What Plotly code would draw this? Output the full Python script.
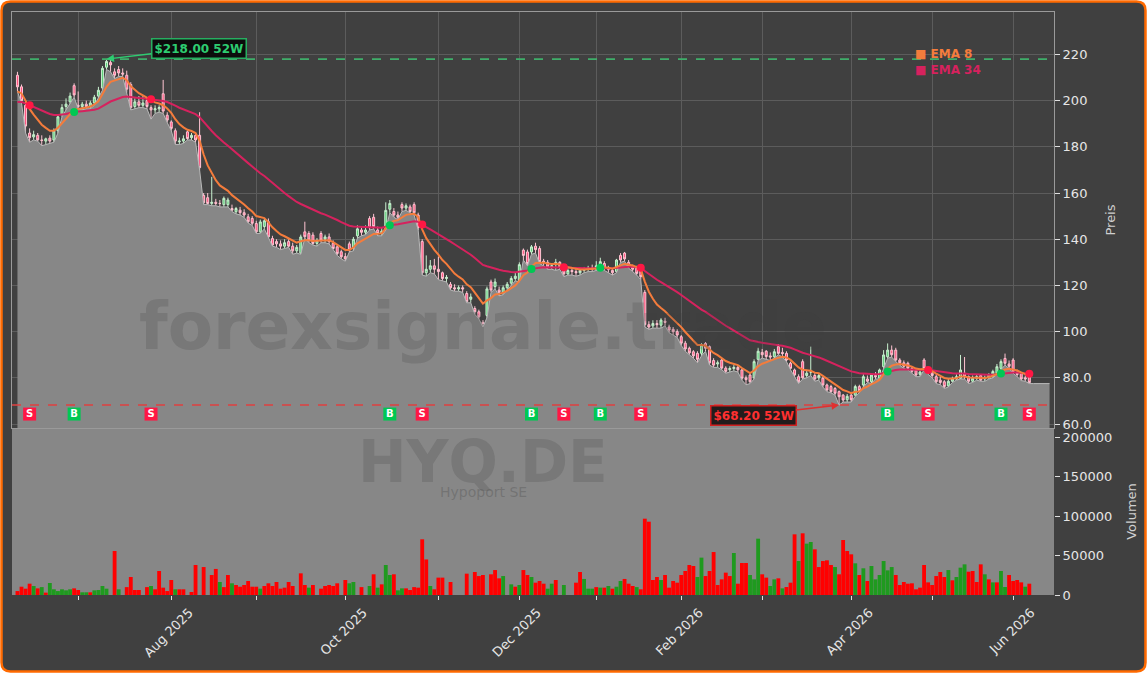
import pandas as pd
import plotly.graph_objects as go

# ---------------- data ----------------
START = "2025-06-10"
END = "2026-06-05"
HOLIDAYS = ["2025-12-24", "2025-12-25", "2025-12-26", "2025-12-31",
            "2026-01-01", "2026-04-03", "2026-04-06", "2026-05-01"]

open_ = [211,206,198,186,184.3,185,183,182.5,183.8,183,
         187,194,197.5,199.5,206.5,198,197.5,198.5,197.5,199,
         202,205.5,214.5,216.5,212.5,213.5,212,211,207,197.5,
         199.5,198,200,197,196,196.5,203,193.7,190.8,187,
         182.2,182.5,186.5,184,185,185,159,158,155.5,156,
         155.5,155,155,153.3,151.9,152.6,151.5,149.7,149,146.8,
         143.2,145.5,147.6,140.3,139,138,137,139,137,135,
         134,143.2,142.5,141.8,138.2,142.5,140,141,138.2,136.7,
         134.6,132.5,138,136,141.5,144,143,149,149.5,144,
         142.5,144.5,153,152,150.5,155,153.5,154,155,150.5,
         139,125.5,127,128.5,127,125.5,123,120.5,119,118.5,
         119,116.5,114,110,108.6,104,107,121.5,119.5,118,
         117,119,121,123,122,135.3,134.5,134.5,137,136,
         130.5,130,128,129,130,128,125,126.5,126,125.5,
         126.5,127,127.5,127,127.5,129.5,127.5,126.5,126,133,
         134,130,128,127.5,126.6,117,103,102.5,103.5,102.8,
         104.5,102,101,100,97.8,95,92.8,91.3,90.6,90.6,
         94.9,93.5,87.5,86,87.7,84.2,83.5,84,84.5,83.4,
         80,81.2,80,88,91,91.5,89.5,89.1,93.5,91,
         90.6,86.3,83.4,80.5,87,81,82.5,81,80,79.8,
         76.9,76.2,75.4,74,72.5,70.5,72.5,72.5,76.2,76.9,
         79.5,78.3,81,79.8,84.8,89.1,92,92,87.7,86.5,
         86.3,84,83.4,81.5,87.7,83.5,82,80.5,79,78.3,
         76.5,78.5,79.5,79.8,82,80.5,78.5,79.8,81,79.5,
         80,80.5,81.9,84.1,88.4,86,87.7,82,81.9,80,
         81.2]

high = [212.5,207,200,188,187,186,185,184,185,188,
        194,198.5,201,203.5,207.5,204,199.5,200,200,202.5,
        206,215,218,218,214,215,214,213,208,201,
        202,202,201,198,198,198,209,195,191.5,188,
        184,185,187.5,186,186,195,160,160,167,157.5,
        157,158.5,158,155,154,154,153,151,150,148,
        148.5,149,149,141.5,140,139.5,140,140,138.5,137.5,
        142,147.6,143.5,143,140.5,143.5,142,142.5,139.5,137.5,
        135.5,134,139,141,146,145,146,150,151,145.5,
        145,156,157,153.5,152,156,155.5,155,156,151.5,
        140,133,131,131.5,132.5,126,124.5,121.5,120.5,120,
        120,117.5,116.5,111,109.5,105,119.5,122.5,123,119.5,
        120,121.5,124,125.5,130,136,135.5,137.5,138.5,137,
        131.5,131,129.5,131.5,130.5,128.5,127.5,127.5,127.5,127.5,
        128,128.5,129,130.5,132,130.5,128.5,127.5,131.5,134,
        134.5,131,129,128.5,127.5,118,104.5,105,105,105.8,
        106,103,102,101,98.5,96,93.5,92,91.5,95,
        95.5,94,88.5,87.5,88.5,85,85,85.5,85.5,84,
        81,82,88,93,92.5,92,91,92.5,94.5,93,
        91.5,87,84,81.5,88,83.5,93.5,82,82,80.5,
        77.5,77,76,74.5,73,73,73.5,77,77,81.5,
        81,82,82.5,84,92,94.9,94,93,88.5,87.5,
        87,85,84,83.5,88.5,84.5,83,81.5,80.5,79,
        79.5,80.5,81.5,89.9,89,81,81,81.5,81.5,81,
        82,83.5,86,88,90.5,87.5,88.5,83.5,82.5,81,
        81.5]

low = [204,199,186,182,183,182.5,180.5,181,181.5,182,
       186,193,196,198.5,201.5,196.5,196,196.5,196.5,198,
       201,204.5,213.5,212.5,209.5,210.5,210.5,203.5,196,196.5,
       197,197,196.5,192,194.5,195,194.5,190.5,187,181,
       181,181.5,183,183,182,170,155,155,154.5,154.5,
       154,154,154,152,151,150.5,149.5,147,146,142.5,
       142.5,144.5,140.5,137,136.5,135.5,136,136.5,133.5,134,
       133.5,140.5,138.5,137.5,137,138.5,138.5,138,135.5,133,
       131.5,130.5,134.5,135,140.5,141.5,142,144,144.5,141.5,
       141.5,144,151.5,149.5,148.5,152,152.5,151.5,150.5,144,
       124.5,124,125.5,125,122.5,122,121.5,118,117.5,117.5,
       117,112.5,112.5,107.5,105.5,102,106,117,118.5,115.5,
       116,118,120,122,121.5,131,128.5,133.5,134,129.5,
       128.5,127,127,126.5,127,123.8,124.5,124.5,124,124.5,
       125.5,126,126,126.5,127,126.5,125.5,124.5,125.5,130,
       130.5,127.5,126,124.5,122.5,102,101,101.5,101.5,101.5,
       102.5,99.5,98.5,97.5,94,91.5,90,88.5,86.5,89.5,
       91.5,85.5,84.5,84.5,83.5,82,82.5,83,82.5,79,
       77,77.5,79.5,87.5,88.5,88,87.5,88.5,90,89,
       87,83.5,80.5,77.5,79.5,80,81,78.5,79,76,
       74,73.5,72.5,68.2,69.5,69.5,69.5,72,73.5,76,
       78,77.5,79.5,79.5,84,88.5,89,87,85.5,84,
       83.5,82,80.5,80.5,83.5,81.5,80,77.5,77,75.4,
       76,78,79,79.5,79.5,77.5,78,79,78.5,78.5,
       79.5,80,81.5,83.5,85.5,84,82,80.5,78.8,78.5,
       77.5]

close = [206,200,189,184,185.3,183,182.8,183.5,182.5,187,
         193,197,198.5,202,202.5,197.5,198.5,197.5,199,201.5,
         204.5,214,217,215.5,211,212,211.5,205,197,199.5,
         198,199,197.5,196,196.5,197,195.5,191.6,188,182.5,
         182.5,183.5,183.6,185,183,171,155.8,155.5,156,155.5,
         155.5,157.7,157,152.6,153.3,151.5,150.5,147.6,146.9,143.2,
         147.5,148,141,137.5,138,137,138.5,137,135,136.5,
         141,141.1,139.6,138.2,139.5,139.6,141,139,136,133.8,
         132.4,131.5,135.3,140,144.5,143,144,145,145.5,142.5,
         143.5,152.5,155.5,150.5,149.5,153.5,154.5,152,151.5,145,
         125.5,127,128.5,127,126,123,123.5,119,118.5,119,
         118.5,113,115,108.6,106.4,103.5,118.5,118,121.5,117,
         119,120.5,123,124,129,133,129.5,136.7,135.5,130.3,
         130,128,128.5,130,128,125,126.5,126,125.5,126.5,
         127,127.5,127,128.5,130.3,127.5,127,125.5,131,131,
         131.5,128.5,127,125.2,123.8,103,102,103.5,103,105,
         104,100.7,100,98.5,95,92.5,90.8,89.5,88,94.2,
         92.8,86.5,85.5,86.5,84.2,82.8,84,84.5,83.5,79.8,
         79.2,78.3,87,91.5,90,89.2,89,91.3,90.6,90.5,
         87.7,84.1,81.2,78.3,80,82,82.5,79.5,81,76.9,
         74.7,74,73.3,71.8,70.4,72,70.5,76.2,74.5,80.5,
         78.5,81.2,80.5,83.4,89.9,92,90,87.7,86.5,85,
         84.1,82.8,81.2,82.5,84.1,82,81,78.3,78,76.2,
         78.5,79.5,80.5,83.4,80.5,78.5,79.8,80.5,79,80,
         81.2,82.7,84.8,87,86.3,85,82.7,81.5,79.5,79.5,
         77.9]

volume = [5000,10500,8000,14300,11400,8400,10000,3000,15200,7200,
          5000,7200,5900,7200,8400,6300,3400,3400,3400,5900,
          6300,11400,8000,0,55700,7200,0,10000,22800,6300,
          6300,0,10000,11400,7200,30400,9300,5000,19000,7200,
          7200,7200,0,3800,38000,0,35400,0,25300,33000,
          16500,10000,25300,14800,12700,10500,12700,17700,10500,10500,
          8000,11400,14800,11400,16500,8000,9300,16500,11400,0,
          27400,12700,9300,12700,0,8000,11400,12700,11400,14800,
          0,19000,14800,16500,0,10000,0,11400,26200,9300,
          13500,38000,25300,26200,5900,8400,8400,6300,10000,9300,
          70500,45000,11400,7200,22000,22000,0,16500,0,0,
          0,27000,0,29100,24000,25300,0,26200,31600,21100,
          24000,0,13500,10500,12700,31600,25300,22800,15600,17700,
          14300,8000,14300,19000,0,12700,0,0,15600,29100,
          20300,8000,8000,10000,9300,9300,11400,8000,10500,17700,
          20300,14300,11400,10000,7200,96600,92800,19000,22800,19000,
          25300,9300,17700,15600,25300,30400,38000,36700,22800,47300,
          24000,30400,54400,12700,19800,28300,24000,53200,14300,40500,
          40500,25300,19800,71300,26200,22000,11400,19800,21100,8400,
          10100,15600,76800,43000,78100,65000,67100,57800,35400,43000,
          43900,38000,35400,26200,69600,55700,51500,40100,25300,33800,
          17700,36700,19800,25300,43000,31200,35400,25300,12700,16500,
          14300,14800,7200,9300,38000,16000,12700,24000,29100,22800,
          31600,18600,22800,34600,38800,29500,30400,16500,38800,26200,
          19800,16000,16000,30400,10100,25300,17700,19000,16000,10500,
          14300]

# volume bar direction as drawn (g = up day, r = down day)
volume_dir = ("rrrrgrgrgg" "ggggrrggrg" "gggrrgrrrr" "rrrgrrrrrg" "rrrrrrrrrr"
              "grrgrrrrrr" "grrrrrrrrr" "rrgrrrrrrr" "rrggrrrgrg" "rggrggrrrr"
              "rrgrrrrrrr" "rrrrrrrrrr" "grgrgrrgrr" "rggrrgrrrr" "gggrgrgrgg"
              "rrrgrrrrrg" "rrrrrrrrgg" "rrrrrrrgrr" "rgggrrggrg" "rrrgrggrrr"
              "rrgrrrrgrg" "rggggggrrr" "rrrrrrrrrr" "grgggrrrrg" "rgrggrrrrg" "r")

signal_dates = ["2025-06-13", "2025-06-30", "2025-07-25", "2025-10-16", "2025-10-28",
                "2025-12-04", "2025-12-16", "2026-01-05", "2026-01-19", "2026-04-16",
                "2026-04-30", "2026-05-27", "2026-06-05"]
signal_types = ["S", "B", "S", "B", "S", "B", "S", "B", "S", "B", "S", "B", "S"]

EMA_FAST, EMA_SLOW = 8, 34
EMA_FAST_SEED, EMA_SLOW_SEED = 203.5, 199.0   # indicator level at left edge of chart
AREA_EXTRA_DAYS = 5

price_ticks = [60, 80, 100, 120, 140, 160, 180, 200, 220]
volume_ticks = [0, 50000, 100000, 150000, 200000]

# ---------------- derived ----------------
days = pd.bdate_range(START, END)
days = days[~days.isin(pd.to_datetime(HOLIDAYS))]
dates = [d.strftime("%Y-%m-%d") for d in days]
ext_days = pd.bdate_range(days[-1] + pd.offsets.BDay(1), periods=AREA_EXTRA_DAYS)
area_dates = dates + [d.strftime("%Y-%m-%d") for d in ext_days]
area_vals = low + [low[-1]] * AREA_EXTRA_DAYS


def ema(vals, span, seed):
    a = 2.0 / (span + 1)
    out, prev = [], seed
    for v in vals:
        prev = a * v + (1 - a) * prev
        out.append(prev)
    return out


ema_fast = ema(close, EMA_FAST, EMA_FAST_SEED)
ema_slow = ema(close, EMA_SLOW, EMA_SLOW_SEED)

hi_val = max(high)
hi_date = dates[high.index(hi_val)]
lo_val = min(low)
lo_date = dates[low.index(lo_val)]

sig_idx = [dates.index(d) for d in signal_dates]
sig_ema = [ema_slow[i] for i in sig_idx]

# month ticks
month_first = days.to_series().groupby([days.year, days.month]).first().tolist()[1:]
tickvals = [d.strftime("%Y-%m-%d") for d in month_first]
ticktext = [d.strftime("%b %Y") if d.month % 2 == 0 else "" for d in month_first]

# ---------------- layout geometry ----------------
W, H = 1147, 673
ML, MR, MT, MB = 12, 93, 12, 78
PW, PH = W - ML - MR, H - MT - MB
SPLIT = (595 - 428) / PH
FONT = "DejaVu Sans"

GREEN = "#00c853"
RED = "#ff1744"
ORANGE = "#f47c3c"
CRIMSON = "#d6225e"


def px(p):
    return (p - ML) / PW


def py(p):
    return (H - MB - p) / PH


def rounded_rect(x0, y0, x1, y1, r):
    return (f"M {px(x0 + r)},{py(y0)} L {px(x1 - r)},{py(y0)} Q {px(x1)},{py(y0)} {px(x1)},{py(y0 + r)} "
            f"L {px(x1)},{py(y1 - r)} Q {px(x1)},{py(y1)} {px(x1 - r)},{py(y1)} "
            f"L {px(x0 + r)},{py(y1)} Q {px(x0)},{py(y1)} {px(x0)},{py(y1 - r)} "
            f"L {px(x0)},{py(y0 + r)} Q {px(x0)},{py(y0)} {px(x0 + r)},{py(y0)} Z")


fig = go.Figure()

fig.add_trace(go.Scatter(x=area_dates, y=area_vals, mode="lines", fill="tozeroy",
                         fillcolor="#878787", line=dict(color="#b8b8b8", width=1),
                         hoverinfo="skip", showlegend=False, xaxis="x", yaxis="y"))

fig.add_trace(go.Candlestick(x=dates, open=open_, high=high, low=low, close=close,
                             increasing=dict(line=dict(color="#c8f0cf", width=1), fillcolor="#5ccf78"),
                             decreasing=dict(line=dict(color="#ffc4d2", width=1), fillcolor="#ff4f7d"),
                             whiskerwidth=0, showlegend=False, hoverinfo="skip",
                             xaxis="x", yaxis="y"))

fig.add_trace(go.Scatter(x=dates, y=ema_slow, mode="lines", line=dict(color=CRIMSON, width=2),
                         showlegend=False, hoverinfo="skip", xaxis="x", yaxis="y"))
fig.add_trace(go.Scatter(x=dates, y=ema_fast, mode="lines", line=dict(color=ORANGE, width=2),
                         showlegend=False, hoverinfo="skip", xaxis="x", yaxis="y"))

fig.add_trace(go.Scatter(x=signal_dates, y=sig_ema, mode="markers",
                         marker=dict(size=8, color=[GREEN if t == "B" else RED for t in signal_types]),
                         showlegend=False, hoverinfo="skip", xaxis="x", yaxis="y"))

SIGNAL_LEVEL = 64.3
fig.add_trace(go.Scatter(x=signal_dates, y=[SIGNAL_LEVEL] * len(signal_dates), mode="markers+text",
                         marker=dict(symbol="square", size=13,
                                     color=[GREEN if t == "B" else RED for t in signal_types]),
                         text=[f"<b>{t}</b>" for t in signal_types], textposition="middle center",
                         textfont=dict(color="white", size=10, family=FONT),
                         showlegend=False, hoverinfo="skip", xaxis="x", yaxis="y"))

fig.add_trace(go.Bar(x=dates, y=volume,
                     marker=dict(color=["#1f9a1f" if c == "g" else "#ff0000" for c in volume_dir],
                                 line=dict(width=0)),
                     showlegend=False, hoverinfo="skip", xaxis="x2", yaxis="y2"))

xr = [-1.35, 256.1]
fig.update_layout(
    width=W, height=H,
    margin=dict(l=ML, r=MR, t=MT, b=MB, pad=0),
    paper_bgcolor="white", plot_bgcolor="#404040",
    font=dict(family=FONT, color="#e6e6e6", size=13),
    hovermode=False, bargap=0.05, showlegend=False,
    xaxis=dict(domain=[0, 1], anchor="y", type="category", range=xr,
               tickvals=tickvals, showticklabels=False, ticks="",
               showgrid=True, gridcolor="#5c5c5c", gridwidth=1,
               showline=True, linecolor="#9a9a9a", mirror=True, linewidth=1,
               rangeslider=dict(visible=False), zeroline=False, automargin=False),
    xaxis2=dict(domain=[0, 1], anchor="y2", type="category", matches="x", range=xr,
                tickvals=tickvals, ticktext=ticktext, tickangle=-45, ticklabelshift=18,
                ticks="outside", ticklen=4, tickcolor="#e0e0e0",
                tickfont=dict(size=13, color="#e6e6e6"),
                showgrid=False, showline=False, zeroline=False, automargin=False),
    yaxis=dict(domain=[SPLIT, 1], anchor="x", side="right", range=[58.27, 238.4],
               tickvals=price_ticks,
               ticktext=[f"{v:.1f}" if v < 100 else f"{v:.0f}" for v in price_ticks],
               ticks="outside", ticklen=5, tickcolor="#e0e0e0",
               tickfont=dict(size=13, color="#e6e6e6"),
               showgrid=True, gridcolor="#5c5c5c", gridwidth=1,
               showline=True, linecolor="#9a9a9a", mirror=True, zeroline=False,
               title=dict(text="Preis", font=dict(size=13, color="#cfcfcf")), automargin=False),
    yaxis2=dict(domain=[0, SPLIT], anchor="x2", side="right", range=[0, 211400],
                tickvals=volume_ticks, ticktext=[str(v) for v in volume_ticks],
                ticks="outside", ticklen=5, tickcolor="#e0e0e0",
                tickfont=dict(size=13, color="#e6e6e6"),
                showgrid=False, zeroline=False, showline=False,
                title=dict(text="Volumen", font=dict(size=13, color="#cfcfcf")), automargin=False),
)

shapes = [
    dict(type="path", xref="paper", yref="paper", path=rounded_rect(1.5, 1.5, W - 1.5, H - 1.5, 9),
         fillcolor="#404040", line=dict(color="#ff6a00", width=2.5), layer="below"),
    dict(type="rect", xref="x2 domain", yref="y2 domain", x0=0, x1=1, y0=0, y1=1,
         fillcolor="#878787", line=dict(width=0), layer="below"),
    dict(type="line", xref="x domain", yref="y", x0=0, x1=1, y0=hi_val, y1=hi_val,
         line=dict(color="#3fae6a", width=1.6, dash="dash")),
    dict(type="line", xref="x domain", yref="y", x0=0, x1=1, y0=lo_val, y1=lo_val,
         line=dict(color="#e04040", width=1.6, dash="dash")),
]
fig.update_layout(shapes=shapes)

wm = "rgba(60,60,60,0.2)"
annotations = [
    dict(x=px(483), y=py(326), xref="paper", yref="paper", xanchor="center", yanchor="middle",
         text="<b>forexsignale.trade</b>",
         showarrow=False, font=dict(size=66, color=wm, family=FONT)),
    dict(x=px(483), y=py(462), xref="paper", yref="paper", xanchor="center", yanchor="middle",
         text="<b>HYQ.DE</b>",
         showarrow=False, font=dict(size=58, color=wm, family=FONT)),
    dict(x=px(483), y=py(492), xref="paper", yref="paper", xanchor="center", yanchor="middle",
         text="Hypoport SE",
         showarrow=False, font=dict(size=14, color="rgba(90,90,90,0.45)", family=FONT)),
    dict(x=hi_date, y=hi_val, xref="x", yref="y", text=f"<b>${hi_val:.2f} 52W</b>",
         showarrow=True, arrowhead=2, arrowsize=1, arrowwidth=1.5, arrowcolor="#2ecc71",
         ax=92, ay=-11, axref="pixel", ayref="pixel",
         font=dict(size=12, color="#2ecc71", family=FONT),
         bgcolor="rgba(8,8,8,0.92)", bordercolor="#27ae60", borderwidth=1.5, borderpad=2),
    dict(x=lo_date, y=lo_val, xref="x", yref="y", text=f"<b>${lo_val:.2f} 52W</b>",
         showarrow=True, arrowhead=2, arrowsize=1, arrowwidth=1.5, arrowcolor="#e03030",
         ax=-86, ay=10, axref="pixel", ayref="pixel",
         font=dict(size=12, color="#ff3030", family=FONT),
         bgcolor="rgba(25,18,18,0.92)", bordercolor="#d02020", borderwidth=1.5, borderpad=2),
    dict(x=px(913), y=py(54), xref="paper", yref="paper", xanchor="left", yanchor="middle",
         text=f"<b>■ EMA {EMA_FAST}</b>", showarrow=False,
         font=dict(size=12, color=ORANGE, family=FONT)),
    dict(x=px(913), y=py(70), xref="paper", yref="paper", xanchor="left", yanchor="middle",
         text=f"<b>■ EMA {EMA_SLOW}</b>", showarrow=False,
         font=dict(size=12, color=CRIMSON, family=FONT)),
]
fig.update_layout(annotations=annotations)

fig.write_html("out.html")
